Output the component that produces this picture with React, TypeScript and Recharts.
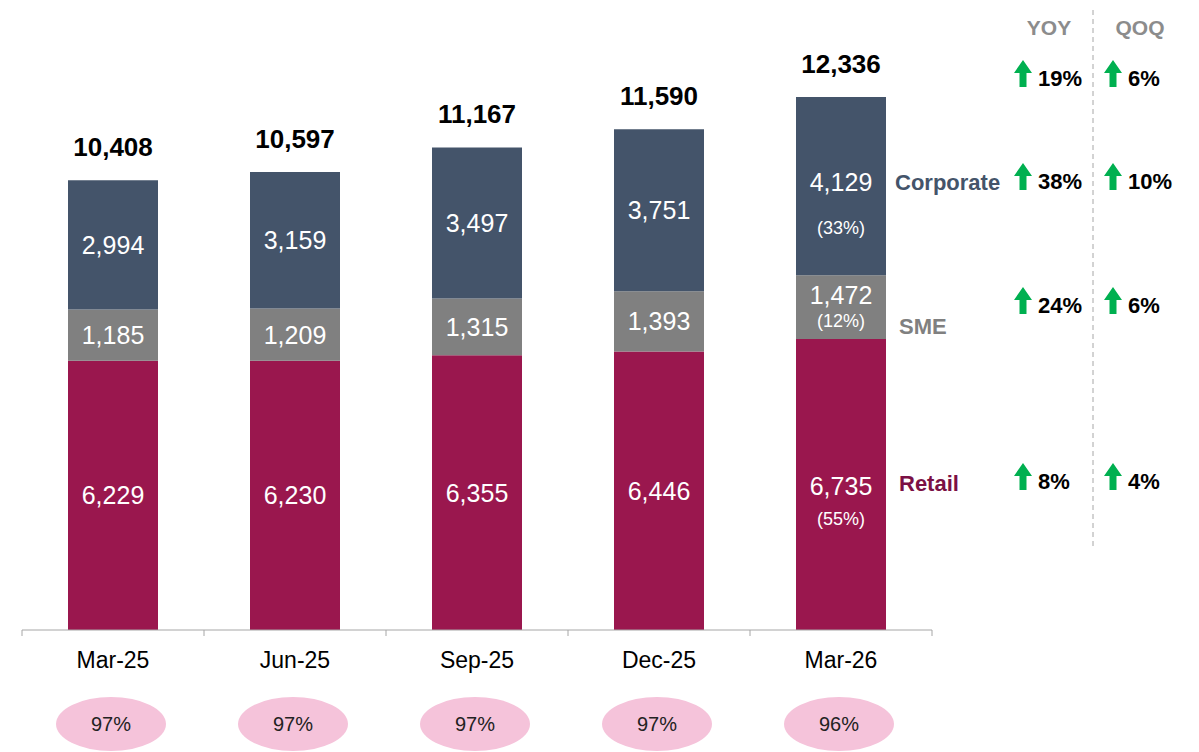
import { Bar, BarChart, LabelList, XAxis, YAxis } from "recharts";

const categories = ["Mar-25", "Jun-25", "Sep-25", "Dec-25", "Mar-26"];
const retail = [6229, 6230, 6355, 6446, 6735];
const sme = [1185, 1209, 1315, 1393, 1472];
const corporate = [2994, 3159, 3497, 3751, 4129];
const totals = [10408, 10597, 11167, 11590, 12336];
const retailShare = ["", "", "", "", "(55%)"];
const smeShare = ["", "", "", "", "(12%)"];
const corporateShare = ["", "", "", "", "(33%)"];
const coverage = ["97%", "97%", "97%", "97%", "96%"];

const growthRows = ["Total", "Corporate", "SME", "Retail"];
const yoyGrowth = ["19%", "38%", "24%", "8%"];
const qoqGrowth = ["6%", "10%", "6%", "4%"];

const data = categories.map((name, i) => ({
  name,
  retail: retail[i],
  sme: sme[i],
  corporate: corporate[i],
}));

const FONT = "'Liberation Sans', Arial, sans-serif";
const RETAIL = "#9A174E";
const SME = "#808080";
const CORP = "#44546A";
const GREEN = "#00B050";

const fmt = (v: number) => v.toLocaleString("en-US");

function segmentLabel(shares: string[], numOffset: number, shareOffset: number) {
  return (props: any) => {
    const { x, y, width, height, value, index } = props;
    const cx = x + width / 2;
    const cy = y + height / 2;
    const share = shares[index];
    return (
      <g>
        <text
          x={cx}
          y={share ? cy + numOffset : cy}
          fill="#fff"
          fontSize={25}
          fontFamily={FONT}
          textAnchor="middle"
          dominantBaseline="central"
        >
          {fmt(value)}
        </text>
        {share && (
          <text
            x={cx}
            y={cy + shareOffset}
            fill="#fff"
            fontSize={18}
            fontFamily={FONT}
            textAnchor="middle"
            dominantBaseline="central"
          >
            {share}
          </text>
        )}
      </g>
    );
  };
}

const totalLabel = (props: any) => {
  const { x, y, width, index } = props;
  return (
    <text
      x={x + width / 2}
      y={y - 33}
      fill="#000"
      fontSize={26}
      fontWeight="bold"
      fontFamily={FONT}
      textAnchor="middle"
      dominantBaseline="central"
    >
      {fmt(totals[index])}
    </text>
  );
};

const CategoryTick = (props: any) => {
  const { x, y, payload, index } = props;
  const half = 91;
  return (
    <g>
      <line x1={x - half} x2={x - half} y1={y} y2={y + 6} stroke="#A6A6A6" />
      {index === categories.length - 1 && (
        <line x1={x + half} x2={x + half} y1={y} y2={y + 6} stroke="#A6A6A6" />
      )}
      <text
        x={x}
        y={y + 30}
        fill="#000"
        fontSize={23}
        fontFamily={FONT}
        textAnchor="middle"
        dominantBaseline="central"
      >
        {payload.value}
      </text>
      <ellipse cx={x - 2} cy={y + 94} rx={55} ry={27} fill="#F5C3DA" />
      <text
        x={x - 2}
        y={y + 94}
        fill="#222"
        fontSize={20}
        fontFamily={FONT}
        textAnchor="middle"
        dominantBaseline="central"
      >
        {coverage[index]}
      </text>
    </g>
  );
};

function UpArrow({ cx, bottom }: { cx: number; bottom: number }) {
  const top = bottom - 27;
  const path = `M ${cx} ${top} L ${cx + 9} ${top + 13} L ${cx + 3.5} ${top + 13} L ${cx + 3.5} ${bottom} L ${cx - 3.5} ${bottom} L ${cx - 3.5} ${top + 13} L ${cx - 9} ${top + 13} Z`;
  return <path d={path} fill={GREEN} />;
}

const rowY = [78, 181, 305, 481];
const rowLabelY = [0, 182, 326, 483];
const rowLabelColor = ["", CORP, SME, "#7B1045"];

function Annotations() {
  return (
    <svg
      width={1199}
      height={752}
      style={{ position: "absolute", left: 0, top: 0, pointerEvents: "none" }}
    >
      <text x={1049} y={27} fill="#8C8C8C" fontSize={21} fontWeight="bold" fontFamily={FONT} textAnchor="middle" dominantBaseline="central">
        YOY
      </text>
      <text x={1140} y={27} fill="#8C8C8C" fontSize={21} fontWeight="bold" fontFamily={FONT} textAnchor="middle" dominantBaseline="central">
        QOQ
      </text>
      <line x1={1093} x2={1093} y1={10} y2={548} stroke="#A6A6A6" strokeDasharray="5 4" />
      {growthRows.map((row, i) => (
        <g key={row}>
          {i > 0 && (
            <text
              x={i === 1 ? 895 : 899}
              y={rowLabelY[i]}
              fill={rowLabelColor[i]}
              fontSize={22}
              fontWeight="bold"
              fontFamily={FONT}
              dominantBaseline="central"
            >
              {row}
            </text>
          )}
          <UpArrow cx={1023} bottom={rowY[i] + 9} />
          <text x={1038} y={rowY[i]} fill="#000" fontSize={22} fontWeight="bold" fontFamily={FONT} dominantBaseline="central">
            {yoyGrowth[i]}
          </text>
          <UpArrow cx={1113} bottom={rowY[i] + 9} />
          <text x={1128} y={rowY[i]} fill="#000" fontSize={22} fontWeight="bold" fontFamily={FONT} dominantBaseline="central">
            {qoqGrowth[i]}
          </text>
        </g>
      ))}
    </svg>
  );
}

export default function App() {
  return (
    <div style={{ position: "absolute", left: 0, top: 0, width: 1199, height: 752, background: "#fff" }}>
      <BarChart
        width={1199}
        height={752}
        data={data}
        margin={{ top: 25, right: 267, left: 22, bottom: 12 }}
        barSize={90}
      >
        <XAxis
          dataKey="name"
          height={110}
          axisLine={{ stroke: "#A6A6A6" }}
          tickLine={false}
          tickSize={0}
          tickMargin={0}
          interval={0}
          tick={<CategoryTick />}
        />
        <YAxis hide domain={[0, 14000]} />
        <Bar dataKey="retail" stackId="a" fill={RETAIL} isAnimationActive={false}>
          <LabelList dataKey="retail" content={segmentLabel(retailShare, 2, 35)} />
        </Bar>
        <Bar dataKey="sme" stackId="a" fill={SME} isAnimationActive={false}>
          <LabelList dataKey="sme" content={segmentLabel(smeShare, -12, 14)} />
        </Bar>
        <Bar dataKey="corporate" stackId="a" fill={CORP} isAnimationActive={false}>
          <LabelList dataKey="corporate" content={segmentLabel(corporateShare, -4, 42)} />
          <LabelList dataKey="corporate" content={totalLabel} />
        </Bar>
      </BarChart>
      <Annotations />
    </div>
  );
}
